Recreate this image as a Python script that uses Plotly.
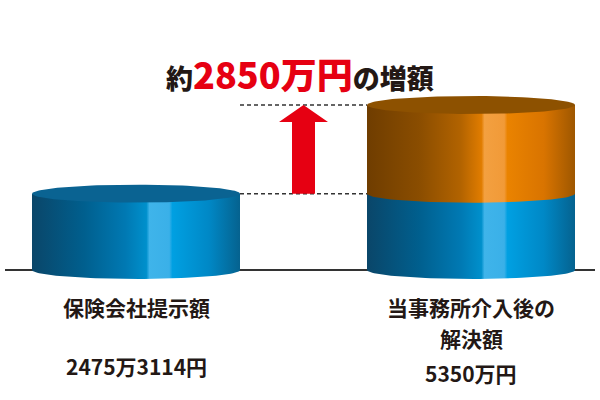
import numpy as np
import plotly.graph_objects as go

# ---- data ----
categories = ["保険会社提示額", "当事務所介入後の<br>解決額"]
amount_labels = ["2475万3114円", "5350万円"]
offered = [2475.3114]            # 万円 (insurer's offer)
settled = [5350.0]               # 万円 (after our involvement)
increase_text = ["約", "2850万円", "の増額"]

# ---- layout constants ----
W, H = 600, 400
BASE_PX = 270                    # pixel row of y=0
PX_PER_Y = 165 / 5350            # pixels per 万円
Y_TOP = BASE_PX / PX_PER_Y
Y_BOT = -(H - BASE_PX) / PX_PER_Y
X0_PX, PX_PER_X = 136, 335       # category 0 centre, spacing
X_LEFT = -X0_PX / PX_PER_X
X_RIGHT = (W - X0_PX) / PX_PER_X
RX = 104 / PX_PER_X              # cylinder half width
RY = 9 / PX_PER_Y                # ellipse half height
FONT = "Noto Sans CJK JP"

BLUE_SCALE = [[0, "#0a4669"], [0.25, "#005f8e"], [0.45, "#0079b3"], [0.55, "#0090cc"],
              [0.565, "#3fb4ea"], [0.66, "#3ab0e8"], [0.675, "#00a0e2"], [0.85, "#0088c6"],
              [1, "#05628f"]]
ORANGE_SCALE = [[0, "#6f3d00"], [0.25, "#8a4d00"], [0.45, "#b26300"], [0.55, "#e07c00"],
                [0.565, "#f3a040"], [0.66, "#f19a38"], [0.675, "#ea8300"], [0.85, "#d97400"],
                [1, "#9e5700"]]
BLUE_TOP = "#0a6392"
ORANGE_TOP = "#8d5100"

fig = go.Figure()

# baseline
fig.add_trace(go.Scatter(x=[(5 - X0_PX) / PX_PER_X, (595 - X0_PX) / PX_PER_X], y=[0, 0],
                         mode="lines", line=dict(color="#333333", width=2), hoverinfo="skip"))

t_half = np.linspace(0, np.pi, 60)
t_full = np.linspace(0, 2 * np.pi, 120)


def side(xc, y0, y1, scale):
    xs = [xc - RX, xc + RX] + list(xc + RX * np.cos(t_half))
    ys = [y1, y1] + list(y0 - RY * np.sin(t_half))
    fig.add_trace(go.Scatter(x=xs, y=ys, fill="toself", mode="lines", line=dict(width=0),
                             fillgradient=dict(type="horizontal", colorscale=scale),
                             hoverinfo="skip"))


def top(xc, y, color):
    fig.add_trace(go.Scatter(x=list(xc + RX * np.cos(t_full)), y=list(y + RY * np.sin(t_full)),
                             fill="toself", fillcolor=color, mode="lines",
                             line=dict(width=0), hoverinfo="skip"))


# left cylinder
side(0, 0, offered[0], BLUE_SCALE)
top(0, offered[0], BLUE_TOP)
# right cylinder
side(1, 0, offered[0], BLUE_SCALE)
side(1, offered[0], settled[0], ORANGE_SCALE)
top(1, settled[0], ORANGE_TOP)

# dashed guide lines
for yv in (offered[0], settled[0]):
    fig.add_trace(go.Scatter(x=[RX, 1 - RX], y=[yv, yv], mode="lines",
                             line=dict(color="#333333", width=1.5, dash="4px,3px"),
                             hoverinfo="skip"))

# arrow
ax = 0.5
sw, hw = 11.5 / PX_PER_X, 24.5 / PX_PER_X
hh = 17 / PX_PER_Y
y_lo, y_hi = offered[0], settled[0]
fig.add_trace(go.Scatter(
    x=[ax - sw, ax + sw, ax + sw, ax + hw, ax, ax - hw, ax - sw, ax - sw],
    y=[y_lo, y_lo, y_hi - hh, y_hi - hh, y_hi, y_hi - hh, y_hi - hh, y_lo],
    fill="toself", fillcolor="#e60012", mode="lines", line=dict(width=0), hoverinfo="skip"))

# title annotation
fig.add_annotation(
    x=0.5, y=1 - 73 / H, xref="paper", yref="paper", showarrow=False,
    text=f'{increase_text[0]}<span style="color:#e60012;font-size:36px">{increase_text[1]}</span>{increase_text[2]}',
    font=dict(family=FONT, size=27, color="#231815", weight=900), xanchor="center", yanchor="middle")

# category labels (one annotation per line) and amounts
LABEL_FIRST_PX = 307
LINE_PX = 31
amount_y = [366, 373]
for i, (cat, amt) in enumerate(zip(categories, amount_labels)):
    for j, line in enumerate(cat.split("<br>")):
        fig.add_annotation(x=i, y=1 - (LABEL_FIRST_PX + j * LINE_PX) / H, xref="x", yref="paper",
                           showarrow=False, text=line, borderpad=0,
                           font=dict(family=FONT, size=21, color="#231815", weight=700),
                           xanchor="center", yanchor="middle")
    fig.add_annotation(x=i, y=1 - amount_y[i] / H, xref="x", yref="paper", showarrow=False,
                       text=amt, borderpad=0,
                       font=dict(family=FONT, size=21, color="#231815", weight=700),
                       xanchor="center", yanchor="middle")

fig.update_layout(
    width=W, height=H, margin=dict(l=0, r=0, t=0, b=0),
    paper_bgcolor="white", plot_bgcolor="white", showlegend=False,
    xaxis=dict(range=[X_LEFT, X_RIGHT], visible=False, fixedrange=True),
    yaxis=dict(range=[Y_BOT, Y_TOP], visible=False, fixedrange=True),
)

fig.write_html("out.html", config={"displayModeBar": False},
               post_script="document.body.style.margin='0';")
